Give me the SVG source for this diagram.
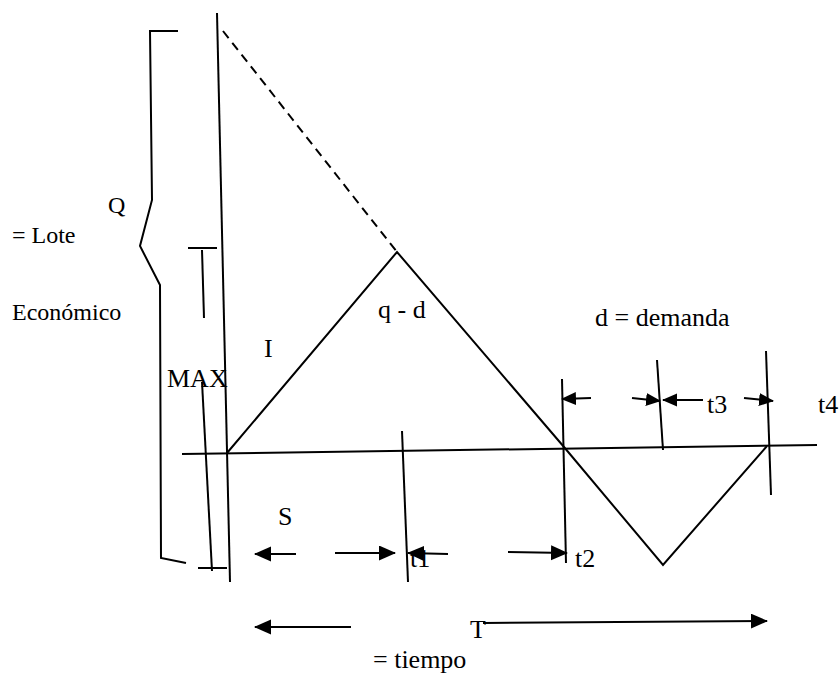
<svg xmlns="http://www.w3.org/2000/svg" width="840" height="675" viewBox="0 0 840 675">
<style>
.ln{stroke:#000;stroke-width:2;fill:none;stroke-linecap:butt;stroke-linejoin:miter}
.dash{stroke:#000;stroke-width:2;fill:none;stroke-dasharray:9 6}
.ar{stroke:#000;stroke-width:2;fill:none;marker-end:url(#ah)}
.ars{stroke:#000;stroke-width:2;fill:none;marker-end:url(#ahs)}
.t{font-size:26px;fill:#000}
.ts{font-size:24px;fill:#000}
</style>
<defs>
<marker id="ah" markerUnits="userSpaceOnUse" markerWidth="18" markerHeight="16" refX="16" refY="7.5" orient="auto" viewBox="0 0 18 16">
<path d="M0,0 L17,7.5 L0,15 z" fill="#000"/>
</marker>
<marker id="ahs" markerUnits="userSpaceOnUse" markerWidth="16" markerHeight="14" refX="14" refY="6.5" orient="auto" viewBox="0 0 16 14">
<path d="M0,0 L15,6.5 L0,13 z" fill="#000"/>
</marker>
</defs>
<rect width="840" height="675" fill="#fff"/>

<g id="brace-Q">
<polyline class="ln" points="178,31 150,31 152,200 140,246 160,285 161,558 186,563"/>
</g>
<g id="axis-vertical">
<line class="ln" x1="217" y1="13" x2="230" y2="582"/>
</g>
<g id="max-marker">
<line class="ln" x1="188" y1="248" x2="217" y2="248"/>
<line class="ln" x1="202" y1="250" x2="204" y2="318"/>
<line class="ln" x1="202" y1="382" x2="212" y2="571"/>
<line class="ln" x1="198" y1="568" x2="227" y2="568"/>
</g>
<g id="axis-time">
<line class="ln" x1="182" y1="454" x2="817" y2="445"/>
</g>
<g id="inventory-curve">
<polyline class="ln" points="227,453 397,252 564,447 663,565 767,446"/>
<line class="dash" x1="223" y1="31" x2="397" y2="252"/>
</g>
<g id="time-marks">
<line class="ln" x1="402" y1="431" x2="408" y2="582"/>
<line class="ln" x1="562" y1="379" x2="566" y2="563"/>
<line class="ln" x1="657" y1="360" x2="663" y2="450"/>
<line class="ln" x1="766" y1="351" x2="771" y2="495"/>
</g>
<g id="connectors">
<line class="ar" x1="296" y1="554" x2="255" y2="554"/>
<line class="ar" x1="335" y1="553" x2="395" y2="553"/>
<line class="ar" x1="448" y1="554" x2="408" y2="553"/>
<line class="ar" x1="508" y1="552" x2="567" y2="553"/>
<line class="ars" x1="591" y1="398" x2="562" y2="399"/>
<line class="ars" x1="632" y1="398" x2="660" y2="401"/>
<line class="ars" x1="703" y1="400" x2="663" y2="400"/>
<line class="ars" x1="744" y1="398" x2="773" y2="401"/>
<line class="ar" x1="351" y1="627" x2="255" y2="627"/>
<line class="ar" x1="483" y1="623" x2="767" y2="621"/>
</g>
<g id="labels" font-family="Liberation Serif, Times New Roman, DejaVu Serif, serif">
<text class="ts" x="108" y="213">Q</text>
<text class="ts" x="12" y="243">= Lote</text>
<text class="ts" x="12" y="320">Económico</text>
<text class="t" x="264" y="357">I</text>
<text class="t" x="167" y="387">MAX</text>
<text class="t" x="378" y="318">q - d</text>
<text class="t" x="595" y="326">d = demanda</text>
<text class="t" x="707" y="413">t3</text>
<text class="t" x="818" y="413">t4</text>
<text class="t" x="278" y="525">S</text>
<text class="t" x="410" y="567">t1</text>
<text class="t" x="575" y="567">t2</text>
<text class="t" x="470" y="638">T</text>
<text class="t" x="373" y="668">= tiempo</text>
</g>
</svg>
